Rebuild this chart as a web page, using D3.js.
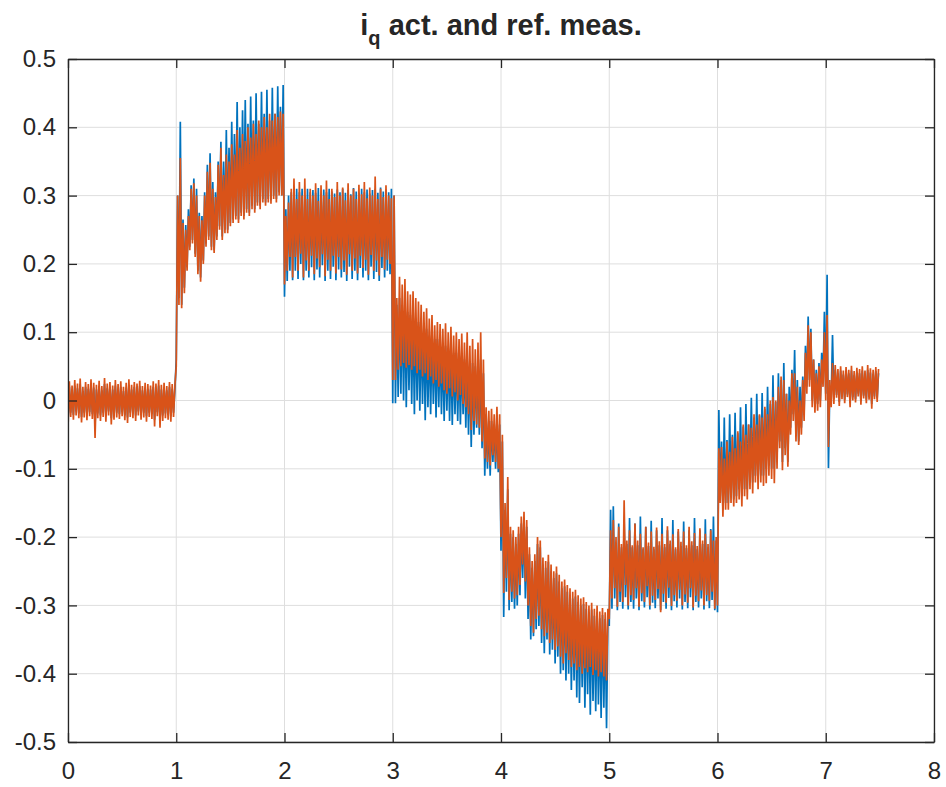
<!DOCTYPE html>
<html>
<head>
<meta charset="utf-8">
<script src="https://cdn.jsdelivr.net/npm/d3@7"></script>
<style>
  body { margin: 0; background: #fff; }
  svg { display: block; }
  text { font-family: "Liberation Sans", Arial, Helvetica, sans-serif; fill: #262626; }
</style>
</head>
<body>
<svg id="chart" width="946" height="787"></svg>
<script>
// Envelope samples of the q-axis current: for every 25 ms bin the low and high
// value reached by the actual (blue) and reference (orange) traces.
const binStep = 0.025;

const xTicks = [0, 1, 2, 3, 4, 5, 6, 7, 8];
const xTickLabels = ["0", "1", "2", "3", "4", "5", "6", "7", "8"];
const yTicks = [-0.5, -0.4, -0.3, -0.2, -0.1, 0, 0.1, 0.2, 0.3, 0.4, 0.5];
const yTickLabels = ["-0.5", "-0.4", "-0.3", "-0.2", "-0.1", "0", "0.1", "0.2", "0.3", "0.4", "0.5"];

const actHi = [
  // 0-1 s
  0.020,0.016,0.022,0.018,0.024,0.014,0.020,0.017,0.023,0.019,
  0.016,0.021,0.015,0.024,0.018,0.020,0.016,0.022,0.017,0.020,
  0.014,0.019,0.023,0.016,0.020,0.018,0.021,0.015,0.019,0.017,
  0.016,0.020,0.018,0.022,0.016,0.019,0.015,0.020,0.017,0.016,
  // 1-2 s
  0.300,0.408,0.265,0.257,0.280,0.315,0.325,0.310,0.275,0.270,
  0.305,0.345,0.362,0.320,0.305,0.350,0.379,0.350,0.396,0.370,
  0.408,0.390,0.437,0.400,0.425,0.440,0.405,0.445,0.410,0.450,
  0.405,0.452,0.420,0.455,0.410,0.458,0.420,0.460,0.430,0.462,
  // 2-3 s
  0.280,0.300,0.305,0.310,0.310,0.305,0.310,0.300,0.310,0.305,
  0.308,0.304,0.311,0.302,0.309,0.305,0.310,0.306,0.303,0.309,
  0.305,0.310,0.304,0.308,0.302,0.311,0.306,0.304,0.310,0.305,
  0.309,0.303,0.308,0.310,0.304,0.312,0.306,0.309,0.305,0.310,
  // 3-4 s
  0.300,0.140,0.150,0.140,0.140,0.130,0.125,0.125,0.120,0.115,
  0.110,0.105,0.105,0.095,0.095,0.090,0.090,0.085,0.080,0.080,
  0.075,0.075,0.070,0.070,0.065,0.065,0.060,0.060,0.055,0.055,
  0.050,0.050,0.060,0.040,-0.020,-0.030,-0.030,-0.035,-0.030,-0.035,
  // 4-5 s
  -0.060,-0.160,-0.130,-0.195,-0.200,-0.210,-0.195,-0.180,-0.175,-0.185,
  -0.225,-0.245,-0.235,-0.210,-0.215,-0.240,-0.245,-0.236,-0.250,-0.260,
  -0.253,-0.265,-0.275,-0.272,-0.280,-0.285,-0.290,-0.287,-0.295,-0.300,
  -0.298,-0.305,-0.310,-0.306,-0.315,-0.310,-0.319,-0.314,-0.320,-0.320,
  // 5-6 s
  -0.160,-0.155,-0.210,-0.180,-0.215,-0.175,-0.210,-0.172,-0.215,-0.180,
  -0.212,-0.170,-0.218,-0.185,-0.213,-0.176,-0.218,-0.190,-0.212,-0.172,
  -0.215,-0.190,-0.210,-0.175,-0.218,-0.192,-0.213,-0.177,-0.216,-0.190,
  -0.212,-0.172,-0.218,-0.190,-0.210,-0.174,-0.215,-0.188,-0.170,-0.205,
  // 6-7 s
  -0.014,-0.060,-0.025,-0.058,-0.020,-0.050,-0.018,-0.048,-0.010,-0.038,
  -0.005,-0.035,0.004,-0.025,0.010,-0.022,0.011,-0.012,0.020,-0.005,
  0.037,-0.002,0.040,0.030,0.055,0.010,0.020,0.045,0.074,0.030,
  0.020,0.035,0.080,0.123,0.105,0.060,0.045,0.055,0.070,0.130,
  // 7-7.5 s
  0.184,0.020,0.096,0.045,0.040,0.044,0.038,0.043,0.040,0.044,
  0.037,0.042,0.040,0.044,0.038,0.045,0.041,0.039,0.043,0.040
];

const actLo = [
  // 0-1 s
  -0.030,-0.018,-0.021,-0.016,-0.019,-0.024,-0.018,-0.022,-0.017,-0.020,
  -0.035,-0.019,-0.022,-0.018,-0.023,-0.016,-0.026,-0.021,-0.018,-0.020,
  -0.017,-0.022,-0.025,-0.018,-0.019,-0.022,-0.016,-0.021,-0.018,-0.023,
  -0.018,-0.020,-0.028,-0.017,-0.030,-0.022,-0.019,-0.021,-0.023,-0.018,
  // 1-2 s
  0.060,0.150,0.140,0.165,0.195,0.225,0.235,0.215,0.190,0.180,
  0.205,0.230,0.240,0.225,0.220,0.240,0.255,0.240,0.250,0.250,
  0.260,0.265,0.270,0.265,0.275,0.270,0.280,0.275,0.285,0.280,
  0.290,0.285,0.295,0.290,0.295,0.293,0.300,0.295,0.305,0.300,
  // 2-3 s
  0.152,0.175,0.190,0.176,0.190,0.178,0.200,0.176,0.190,0.180,
  0.195,0.176,0.192,0.180,0.198,0.175,0.190,0.178,0.196,0.176,
  0.192,0.180,0.188,0.175,0.196,0.178,0.190,0.176,0.194,0.180,
  0.190,0.176,0.196,0.178,0.188,0.175,0.194,0.180,0.190,0.185,
  // 3-4 s
  -0.004,-0.004,0.005,0.010,0.000,-0.010,0.015,-0.005,-0.020,0.000,
  -0.015,-0.005,-0.029,-0.010,-0.020,-0.005,-0.025,-0.010,-0.020,-0.030,
  -0.015,-0.030,-0.036,-0.020,-0.030,-0.035,-0.020,-0.040,-0.050,-0.068,
  -0.050,-0.040,-0.050,-0.070,-0.110,-0.100,-0.110,-0.090,-0.100,-0.105,
  // 4-5 s
  -0.220,-0.317,-0.280,-0.307,-0.295,-0.305,-0.300,-0.285,-0.260,-0.290,
  -0.320,-0.350,-0.345,-0.335,-0.330,-0.355,-0.370,-0.350,-0.372,-0.365,
  -0.385,-0.375,-0.400,-0.395,-0.410,-0.400,-0.424,-0.410,-0.435,-0.443,
  -0.420,-0.450,-0.430,-0.460,-0.440,-0.455,-0.445,-0.465,-0.450,-0.480,
  // 5-6 s
  -0.330,-0.305,-0.290,-0.307,-0.295,-0.305,-0.288,-0.306,-0.295,-0.305,
  -0.290,-0.307,-0.294,-0.303,-0.288,-0.306,-0.296,-0.304,-0.290,-0.307,
  -0.295,-0.305,-0.289,-0.307,-0.294,-0.303,-0.290,-0.306,-0.295,-0.304,
  -0.288,-0.307,-0.295,-0.303,-0.290,-0.306,-0.294,-0.304,-0.292,-0.307,
  // 6-7 s
  -0.310,-0.140,-0.160,-0.150,-0.150,-0.140,-0.145,-0.140,-0.130,-0.140,
  -0.130,-0.130,-0.120,-0.120,-0.110,-0.115,-0.110,-0.110,-0.100,-0.095,
  -0.100,-0.100,-0.090,-0.060,-0.090,-0.070,-0.090,-0.040,-0.020,-0.050,
  -0.060,-0.040,-0.020,0.020,0.030,0.000,-0.010,-0.005,0.000,0.030,
  // 7-7.5 s
  0.010,-0.099,0.000,0.002,0.008,-0.002,0.006,0.001,0.009,-0.004,
  0.005,0.002,0.010,-0.001,0.007,0.001,0.005,-0.005,0.006,0.003
];

const refHi = [
  // 0-1 s
  0.028,0.022,0.030,0.025,0.032,0.020,0.027,0.024,0.031,0.026,
  0.023,0.029,0.021,0.033,0.025,0.027,0.022,0.030,0.024,0.028,
  0.020,0.026,0.031,0.023,0.027,0.025,0.029,0.021,0.026,0.024,
  0.022,0.028,0.025,0.030,0.023,0.026,0.021,0.027,0.024,0.022,
  // 1-2 s
  0.300,0.355,0.260,0.250,0.270,0.310,0.318,0.300,0.270,0.264,
  0.300,0.335,0.348,0.310,0.298,0.345,0.370,0.330,0.360,0.350,
  0.375,0.360,0.396,0.370,0.390,0.380,0.400,0.385,0.405,0.390,
  0.410,0.400,0.415,0.400,0.420,0.410,0.420,0.415,0.423,0.420,
  // 2-3 s
  0.270,0.290,0.310,0.325,0.295,0.320,0.300,0.325,0.295,0.310,
  0.300,0.318,0.292,0.315,0.300,0.322,0.295,0.310,0.298,0.320,
  0.300,0.312,0.293,0.318,0.300,0.310,0.295,0.316,0.302,0.320,
  0.296,0.312,0.300,0.328,0.295,0.310,0.298,0.315,0.300,0.296,
  // 3-4 s
  0.300,0.150,0.181,0.170,0.178,0.160,0.155,0.160,0.150,0.145,
  0.140,0.130,0.135,0.120,0.125,0.110,0.115,0.112,0.105,0.113,
  0.100,0.108,0.095,0.100,0.090,0.098,0.085,0.100,0.080,0.090,
  0.075,0.085,0.100,0.060,-0.010,-0.015,-0.012,-0.020,-0.009,-0.020,
  // 4-5 s
  -0.050,-0.150,-0.112,-0.185,-0.190,-0.200,-0.185,-0.170,-0.163,-0.175,
  -0.215,-0.235,-0.225,-0.200,-0.205,-0.230,-0.235,-0.226,-0.240,-0.250,
  -0.243,-0.255,-0.265,-0.262,-0.270,-0.275,-0.280,-0.277,-0.285,-0.290,
  -0.288,-0.295,-0.300,-0.296,-0.305,-0.300,-0.309,-0.304,-0.310,-0.305,
  // 5-6 s
  -0.190,-0.175,-0.200,-0.185,-0.210,-0.146,-0.205,-0.190,-0.212,-0.180,
  -0.205,-0.195,-0.215,-0.185,-0.208,-0.192,-0.214,-0.186,-0.206,-0.195,
  -0.210,-0.184,-0.205,-0.196,-0.215,-0.188,-0.207,-0.192,-0.212,-0.185,
  -0.206,-0.194,-0.213,-0.187,-0.205,-0.195,-0.210,-0.190,-0.205,-0.200,
  // 6-7 s
  -0.070,-0.068,-0.085,-0.060,-0.075,-0.053,-0.070,-0.045,-0.060,-0.035,
  -0.050,-0.035,-0.040,-0.020,-0.035,-0.020,-0.025,-0.009,-0.020,0.000,
  0.005,0.000,0.020,0.035,0.030,0.010,0.000,0.040,0.040,0.020,
  0.000,0.030,0.070,0.110,0.100,0.060,0.040,0.050,0.060,0.100,
  // 7-7.5 s
  0.125,0.030,0.055,0.052,0.046,0.050,0.044,0.049,0.045,0.051,
  0.043,0.048,0.046,0.050,0.044,0.052,0.047,0.045,0.049,0.046
];

const refLo = [
  // 0-1 s
  -0.042,-0.024,-0.028,-0.022,-0.026,-0.032,-0.025,-0.029,-0.023,-0.027,
  -0.055,-0.026,-0.030,-0.024,-0.031,-0.022,-0.035,-0.028,-0.025,-0.027,
  -0.023,-0.029,-0.033,-0.024,-0.026,-0.030,-0.022,-0.028,-0.025,-0.031,
  -0.024,-0.027,-0.038,-0.023,-0.040,-0.030,-0.026,-0.028,-0.031,-0.024,
  // 1-2 s
  0.050,0.140,0.135,0.157,0.190,0.220,0.230,0.210,0.185,0.174,
  0.200,0.225,0.235,0.220,0.216,0.235,0.250,0.235,0.245,0.245,
  0.255,0.260,0.265,0.260,0.270,0.265,0.275,0.270,0.280,0.275,
  0.285,0.280,0.290,0.285,0.290,0.288,0.295,0.290,0.300,0.300,
  // 2-3 s
  0.170,0.190,0.210,0.180,0.210,0.190,0.215,0.180,0.205,0.190,
  0.212,0.185,0.208,0.195,0.214,0.182,0.206,0.190,0.212,0.186,
  0.210,0.192,0.205,0.184,0.214,0.190,0.208,0.186,0.212,0.194,
  0.206,0.184,0.213,0.190,0.205,0.183,0.210,0.192,0.206,0.200,
  // 3-4 s
  0.030,0.030,0.045,0.050,0.055,0.048,0.052,0.045,0.050,0.040,
  0.045,0.035,0.040,0.030,0.035,0.025,0.030,0.020,0.025,0.015,
  0.010,0.018,0.006,0.012,0.000,0.008,-0.005,-0.010,-0.020,-0.043,
  -0.030,-0.035,-0.040,-0.060,-0.085,-0.090,-0.095,-0.080,-0.090,-0.100,
  // 4-5 s
  -0.200,-0.282,-0.260,-0.292,-0.280,-0.290,-0.285,-0.270,-0.240,-0.265,
  -0.300,-0.330,-0.340,-0.320,-0.315,-0.335,-0.345,-0.340,-0.355,-0.350,
  -0.365,-0.360,-0.375,-0.385,-0.370,-0.380,-0.390,-0.385,-0.395,-0.390,
  -0.400,-0.392,-0.398,-0.390,-0.402,-0.395,-0.404,-0.398,-0.404,-0.410,
  // 5-6 s
  -0.320,-0.290,-0.275,-0.302,-0.280,-0.295,-0.270,-0.300,-0.285,-0.292,
  -0.275,-0.302,-0.282,-0.295,-0.272,-0.300,-0.286,-0.292,-0.276,-0.310,
  -0.283,-0.296,-0.274,-0.301,-0.285,-0.293,-0.277,-0.300,-0.284,-0.296,
  -0.275,-0.303,-0.286,-0.294,-0.278,-0.300,-0.285,-0.293,-0.280,-0.305,
  // 6-7 s
  -0.300,-0.150,-0.170,-0.160,-0.160,-0.150,-0.155,-0.150,-0.145,-0.155,
  -0.140,-0.145,-0.130,-0.136,-0.120,-0.130,-0.120,-0.125,-0.121,-0.110,
  -0.115,-0.121,-0.100,-0.070,-0.102,-0.080,-0.097,-0.050,-0.030,-0.060,
  -0.065,-0.050,-0.030,0.010,0.020,-0.010,-0.018,-0.015,-0.010,0.020,
  // 7-7.5 s
  0.000,-0.068,-0.010,-0.005,0.004,-0.008,0.002,-0.004,0.005,-0.010,
  0.000,-0.003,0.006,-0.006,0.003,-0.004,0.001,-0.012,0.002,-0.002
];

const series = [
  { name: "act", lo: actLo, hi: actHi, color: "#0072BD" },
  { name: "ref", lo: refLo, hi: refHi, color: "#D95319" }
];

const svg = d3.select("#chart");
const plot = { left: 68, right: 934, top: 59, bottom: 742 };

const x = d3.scaleLinear().domain([0, 8]).range([plot.left, plot.right]);
const y = d3.scaleLinear().domain([-0.5, 0.5]).range([plot.bottom, plot.top]);

svg.append("defs").append("clipPath").attr("id", "plot-clip")
  .append("rect")
  .attr("x", plot.left).attr("y", plot.top)
  .attr("width", plot.right - plot.left).attr("height", plot.bottom - plot.top);

// grid
const grid = svg.append("g").attr("class", "grid");
grid.selectAll("line.gx").data(xTicks).join("line")
  .attr("x1", d => x(d)).attr("x2", d => x(d))
  .attr("y1", plot.top).attr("y2", plot.bottom)
  .attr("stroke", "#dedede").attr("stroke-width", 1);
grid.selectAll("line.gy").data(yTicks).join("line")
  .attr("x1", plot.left).attr("x2", plot.right)
  .attr("y1", d => y(d)).attr("y2", d => y(d))
  .attr("stroke", "#dedede").attr("stroke-width", 1);

// traces: each bin contributes its low then its high sample
const line = d3.line().x(d => x(d[0])).y(d => y(d[1]));
function envelopePoints(lo, hi) {
  const pts = [];
  lo.forEach((v, i) => {
    pts.push([i * binStep, v]);
    pts.push([i * binStep + binStep / 2, hi[i]]);
  });
  return pts;
}
svg.append("g").attr("clip-path", "url(#plot-clip)")
  .selectAll("path").data(series).join("path")
  .attr("d", s => line(envelopePoints(s.lo, s.hi)))
  .attr("fill", "none")
  .attr("stroke", s => s.color)
  .attr("stroke-width", 1.7)
  .attr("stroke-linejoin", "bevel");

// axes (ticks point inward on all four sides)
const tickLen = 9;
const fontSize = 24;
const axisBottom = d3.axisBottom(x).tickValues(xTicks)
  .tickFormat((d, i) => xTickLabels[i]).tickSize(-tickLen).tickSizeOuter(0).tickPadding(20);
const axisLeft = d3.axisLeft(y).tickValues(yTicks)
  .tickFormat((d, i) => yTickLabels[i]).tickSize(-tickLen).tickSizeOuter(0).tickPadding(12);
const axisTop = d3.axisTop(x).tickValues(xTicks).tickFormat("").tickSize(-tickLen).tickSizeOuter(0);
const axisRight = d3.axisRight(y).tickValues(yTicks).tickFormat("").tickSize(-tickLen).tickSizeOuter(0);

function styleAxis(g) {
  g.select(".domain").attr("stroke", "#262626").attr("stroke-width", 1.3);
  g.selectAll(".tick line").attr("stroke", "#262626").attr("stroke-width", 1.3);
  g.selectAll(".tick text")
    .attr("fill", "#262626")
    .style("font-family", "'Liberation Sans', Arial, Helvetica, sans-serif")
    .style("font-size", fontSize + "px");
}

svg.append("g").attr("transform", `translate(0,${plot.bottom})`).call(axisBottom).call(styleAxis);
svg.append("g").attr("transform", `translate(${plot.left},0)`).call(axisLeft).call(styleAxis);
svg.append("g").attr("transform", `translate(0,${plot.top})`).call(axisTop).call(styleAxis);
svg.append("g").attr("transform", `translate(${plot.right},0)`).call(axisRight).call(styleAxis);

// title with subscript q
const title = svg.append("text")
  .attr("x", (plot.left + plot.right) / 2)
  .attr("y", 35)
  .attr("text-anchor", "middle")
  .style("font-weight", "bold")
  .style("font-size", "29px");
title.append("tspan").text("i");
title.append("tspan").attr("dy", 10).style("font-size", "20px").text("q");
title.append("tspan").attr("dy", -10).text(" act. and ref. meas.");
</script>
</body>
</html>
